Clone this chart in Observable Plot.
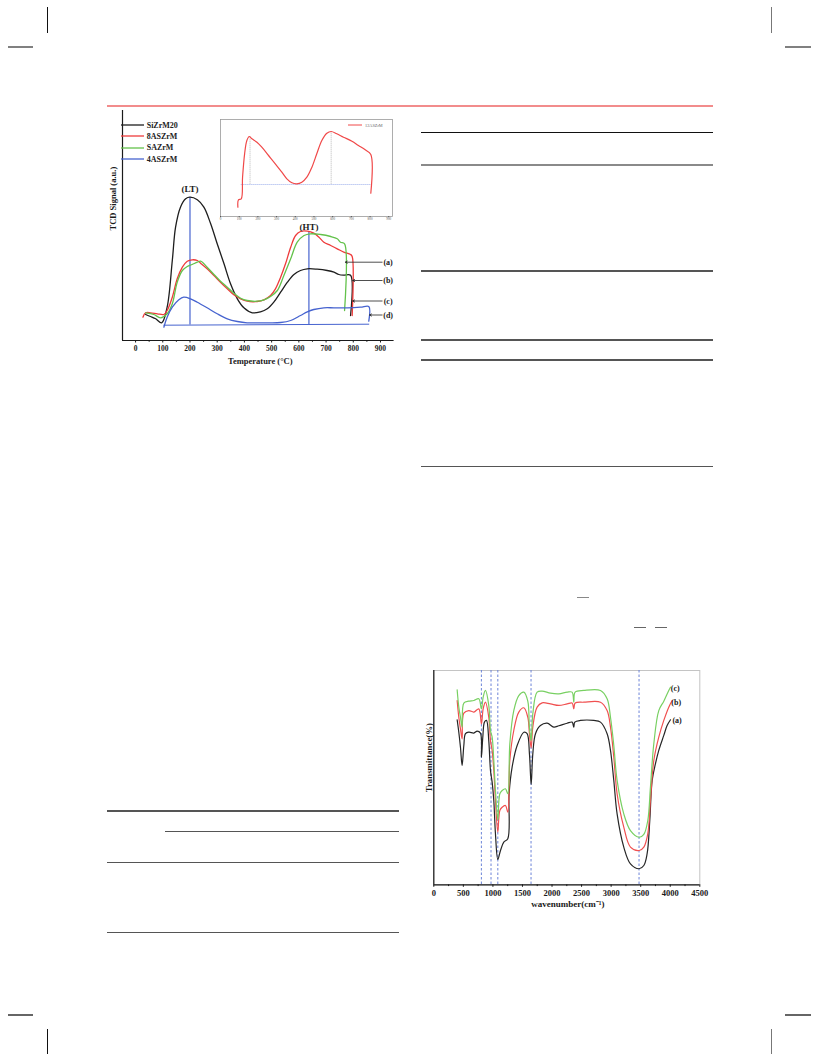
<!DOCTYPE html>
<html>
<head>
<meta charset="utf-8">
<script src="https://cdn.jsdelivr.net/npm/d3@7"></script>
<script src="https://cdn.jsdelivr.net/npm/@observablehq/plot@0.6"></script>
<style>
  body { margin: 0; background: #fff; }
  #page { position: relative; width: 816px; height: 1056px; overflow: hidden; background: #fff;
          font-family: "Liberation Serif", "Times New Roman", serif; }
  .piece { position: absolute; }
  .legend-row { position: absolute; display: flex; align-items: center; font-weight: bold; color: #222; white-space: nowrap; }
  .legend-row svg { display: block; }
</style>
</head>
<body>
<div id="page"></div>
<script>
// ---------- H2-TPD profiles: temperature (°C) vs TCD signal (a.u.) ----------
const tpdSeries = ["SiZrM20", "8ASZrM", "SAZrM", "4ASZrM"];
const tpdColors = ["#1e1e1e", "#ee3b3b", "#63c24b", "#4663cf"];

const siZrM20Temp   = [37, 55, 74, 96, 116, 135, 147, 165, 184, 200, 227, 251, 276, 300, 325, 349, 374, 398, 429, 459, 484, 508, 533, 558, 582, 606, 631, 667, 704, 729, 747, 765, 790, 790];
const siZrM20Signal = [26, 24, 21.7, 17.7, 33.3, 80, 113.3, 133.3, 141.7, 143.3, 140.7, 133.3, 116.7, 96.7, 76.7, 56.7, 41.7, 32.7, 27.7, 28.7, 31.7, 38.3, 48.3, 58.3, 66, 70, 71.7, 71.3, 70, 68.3, 66, 65.3, 65.3, 25];

const as8Temp   = [27, 37, 55, 80, 104, 116, 135, 153, 172, 190, 208, 227, 239, 263, 288, 312, 337, 361, 386, 410, 447, 472, 496, 514, 533, 551, 570, 588, 606, 631, 655, 674, 692, 717, 741, 765, 790, 796, 796];
const as8Signal = [23.3, 27.7, 27.7, 26.7, 26, 30, 43.3, 61.7, 73.3, 79.3, 80.7, 80, 77.3, 71.7, 65, 58.3, 51.7, 45.7, 41.7, 39.3, 39, 40.7, 45, 51.7, 63.3, 76.7, 93.3, 105, 109, 109.3, 107.3, 103.3, 98.3, 95, 91.7, 88.3, 86, 84, 25];

const saTemp   = [37, 67, 92, 116, 135, 153, 172, 190, 208, 227, 239, 263, 288, 312, 337, 361, 386, 410, 447, 472, 496, 521, 545, 570, 594, 619, 643, 680, 717, 741, 753, 768, 768];
const saSignal = [27.7, 26, 22.7, 26.7, 36.7, 58.3, 70, 74, 76, 78.3, 79.3, 73.3, 66, 59.3, 53.3, 47.3, 42.3, 40, 39.3, 40.7, 44, 50, 65, 81.7, 98.3, 105, 106.7, 106, 104, 101.7, 98.3, 96.7, 30];

const as4Temp   = [104, 116, 135, 159, 177, 202, 227, 263, 300, 337, 374, 410, 484, 533, 570, 606, 631, 655, 692, 729, 778, 827, 857, 857];
const as4Signal = [13.3, 23.3, 33.3, 40.7, 43.3, 41.7, 38.3, 32.7, 26.7, 21.7, 19, 17.7, 17.7, 18, 20, 25, 28.7, 31, 32.7, 32.7, 32.7, 33.3, 34, 19.3];

const tpdTicks = [0, 100, 200, 300, 400, 500, 600, 700, 800, 900];
const tpdMinorTicks = [50, 150, 250, 350, 450, 550, 650, 750, 850];

// reduction peaks (low / high temperature) and the common baseline
const peakLabels = ["(LT)", "(HT)"];
const peakTemp = [200, 637];
const peakTop = [143.3, 108];
const peakLabelSignal = [151, 113.5];
const baselineTemp = [104, 857];
const baselineSignal = [15.3, 16.3];

// curve tags with pointer arrows
const curveTags = ["(a)", "(b)", "(c)", "(d)"];
const tagSignal = [78.3, 60, 39.5, 25.5];
const tagArrowStart = [906, 906, 906, 906];
const tagArrowEnd = [771, 798, 798, 860];
const tagTextTemp = [928, 928, 928, 928];

// ---------- inset: 12ASZrM profile ----------
const insetName = "12ASZrM";
const insetTemp   = [93, 96, 111, 118, 129, 141, 154, 168, 195, 221, 257, 293, 328, 355, 382, 408, 435, 462, 489, 515, 542, 569, 592, 622, 658, 703, 738, 774, 804, 804];
const insetSignal = [9.3, 16.7, 17.7, 39.3, 62.7, 76, 80, 77.7, 74.3, 69.3, 61, 52.7, 44.3, 37.7, 33.7, 32.7, 34.3, 39.3, 49.3, 62.7, 76, 83.3, 85, 82.7, 79.3, 75.3, 71, 66.7, 62, 23.3];
const insetPeakTemp = [158, 592];
const insetPeakTop = [79.5, 85];
const insetBaseTemp = [110, 804];
const insetBaseSignal = [32, 32];
const insetTicks = [0, 100, 200, 300, 400, 500, 600, 700, 800, 900];

// ---------- FTIR spectra: wavenumber (cm-1) vs transmittance (%) ----------
const ftirSeries = ["(a)", "(b)", "(c)"];
const ftirColors = ["#262626", "#f05050", "#78d062"];

const ftirAWave = [395, 423, 451, 479, 508, 536, 592, 677, 733, 789, 806, 829, 857, 891, 930, 959, 987, 1015, 1043, 1083, 1128, 1184, 1252, 1274, 1325, 1410, 1523, 1579, 1618, 1647, 1675, 1720, 1804, 1917, 2030, 2115, 2256, 2340, 2368, 2385, 2481, 2707, 2820, 2932, 2989, 3045, 3101, 3214, 3327, 3474, 3553, 3609, 3654, 3694, 3750, 3806, 3891, 3947, 4004];
const ftirATrans = [77.0, 71.2, 64.2, 55.7, 65.0, 70.5, 71.2, 70.8, 71.7, 70.8, 59.6, 68.9, 75.9, 76.7, 67.3, 53.3, 47.9, 39.3, 23.8, 11.8, 16.0, 19.9, 21.5, 42.5, 54.9, 65.0, 71.2, 70.5, 61.1, 46.8, 61.1, 70.5, 74.3, 75.4, 73.6, 74.2, 75.4, 75.9, 73.6, 75.9, 76.7, 76.7, 75.9, 70.5, 62.7, 48.7, 33.1, 17.6, 9.8, 7.5, 9.0, 14.5, 30.0, 48.7, 56.5, 62.7, 69.7, 74.3, 77.0];

const ftirBWave = [395, 423, 451, 479, 508, 592, 677, 761, 806, 835, 874, 930, 959, 987, 1015, 1043, 1083, 1117, 1156, 1212, 1252, 1286, 1353, 1438, 1523, 1590, 1618, 1647, 1675, 1748, 1833, 1974, 2115, 2256, 2340, 2368, 2391, 2538, 2820, 2932, 2989, 3045, 3101, 3214, 3327, 3474, 3553, 3620, 3665, 3722, 3806, 3891, 3975, 4032];
const ftirBTrans = [86.0, 78.2, 72.8, 68.1, 80.1, 81.3, 80.6, 82.1, 75.1, 82.1, 85.2, 78.2, 67.3, 62.7, 53.3, 39.3, 24.6, 34.7, 36.2, 37.0, 33.9, 58.0, 72.0, 80.6, 82.6, 78.2, 70.5, 63.9, 73.6, 82.9, 84.9, 84.4, 83.7, 84.4, 84.8, 82.1, 84.8, 85.2, 85.2, 81.3, 73.6, 59.6, 42.5, 26.9, 17.6, 16.0, 17.6, 23.8, 39.3, 58.0, 68.9, 76.7, 82.9, 86.0];

const ftirCWave = [395, 423, 451, 479, 508, 592, 677, 761, 806, 835, 874, 930, 959, 987, 1015, 1043, 1083, 1117, 1156, 1212, 1252, 1286, 1353, 1438, 1523, 1590, 1618, 1647, 1675, 1748, 1833, 1974, 2115, 2256, 2340, 2368, 2391, 2538, 2820, 2932, 2989, 3045, 3101, 3214, 3327, 3474, 3553, 3620, 3665, 3722, 3806, 3891, 3975, 4004];
const ftirCTrans = [91.0, 82.9, 78.2, 73.6, 84.8, 85.7, 86.0, 86.8, 82.1, 87.6, 90.7, 83.7, 72.0, 68.9, 58.0, 44.0, 30.3, 42.5, 44.0, 44.8, 42.5, 65.8, 81.3, 88.3, 89.9, 85.7, 73.6, 67.3, 79.8, 89.9, 90.4, 89.4, 89.1, 89.9, 89.9, 85.2, 89.9, 90.7, 90.7, 86.8, 78.2, 65.0, 48.7, 33.1, 25.3, 22.2, 23.5, 30.0, 45.6, 65.8, 81.3, 85.7, 90.7, 92.2];

const ftirTagWave = [4116, 4100, 4083];
const ftirTagTrans = [76.7, 85.2, 91.4];
const bandPositions = [805, 968, 1083, 1645, 3472];
const ftirTicks = [0, 500, 1000, 1500, 2000, 2500, 3000, 3500, 4000, 4500];
const ftirMinorTicks = [250, 750, 1250, 1750, 2250, 2750, 3250, 3750, 4250];

// ---------- build tables ----------
const tpdTemps = [siZrM20Temp, as8Temp, saTemp, as4Temp];
const tpdSignals = [siZrM20Signal, as8Signal, saSignal, as4Signal];
const tpdRows = tpdSeries.flatMap((name, i) =>
  tpdTemps[i].map((t, j) => ({series: name, temp: t, signal: tpdSignals[i][j]})));
const peakRows = peakLabels.map((label, i) => ({label, temp: peakTemp[i], top: peakTop[i], labelSignal: peakLabelSignal[i]}));
const baselineRows = baselineTemp.map((t, i) => ({temp: t, signal: baselineSignal[i]}));
const tagRows = curveTags.map((tag, i) => ({tag, signal: tagSignal[i], from: tagArrowStart[i], to: tagArrowEnd[i], textTemp: tagTextTemp[i]}));

const insetRows = insetTemp.map((t, i) => ({temp: t, signal: insetSignal[i]}));
const insetPeakRows = insetPeakTemp.map((t, i) => ({temp: t, top: insetPeakTop[i]}));
const insetBaseRows = insetBaseTemp.map((t, i) => ({temp: t, signal: insetBaseSignal[i]}));

const ftirWaves = [ftirAWave, ftirBWave, ftirCWave];
const ftirTrans = [ftirATrans, ftirBTrans, ftirCTrans];
const ftirRows = ftirSeries.flatMap((name, i) =>
  ftirWaves[i].map((w, j) => ({series: name, wave: w, trans: ftirTrans[i][j]})));
const ftirTagRows = ftirSeries.map((name, i) => ({tag: name, wave: ftirTagWave[i], trans: ftirTagTrans[i]}));

const serif = "Liberation Serif, Times New Roman, serif";
const ink = "#1a1a1a";
const page = document.getElementById("page");

function place(node, left, top) {
  node.classList.add("piece");
  node.style.left = left + "px";
  node.style.top = top + "px";
  page.appendChild(node);
}

// ---------- page furniture: header rule, table rules, crop marks ----------
function hRule(x1, x2, y, thick, color) {
  const d = document.createElement("div");
  d.style.cssText = `position:absolute;left:${x1}px;top:${y - thick / 2}px;width:${x2 - x1}px;height:${thick}px;background:${color};`;
  page.appendChild(d);
}
function vRule(x, y1, y2, thick, color) {
  const d = document.createElement("div");
  d.style.cssText = `position:absolute;left:${x - thick / 2}px;top:${y1}px;width:${thick}px;height:${y2 - y1}px;background:${color};`;
  page.appendChild(d);
}
hRule(107, 713, 105.8, 1.6, "#f28c8c");
hRule(421, 713, 132.3, 1, "#111");
hRule(421, 713, 164.7, 1.7, "#8a8a8a");
hRule(421, 713, 271, 1.3, "#555");
hRule(421, 713, 340, 1.3, "#555");
hRule(421, 713, 360, 1.3, "#555");
hRule(421, 713, 466.7, 1.3, "#555");
hRule(107, 399, 811, 1.3, "#555");
hRule(165, 399, 831.3, 1.3, "#555");
hRule(107, 399, 862.7, 1.3, "#555");
hRule(107, 399, 932.7, 1.3, "#555");
hRule(577, 589, 597.7, 1.5, "#888");
hRule(634, 646, 627.7, 1.5, "#666");
hRule(655, 667, 627.7, 1.5, "#666");
hRule(8, 33, 46.7, 2, "#808080");
hRule(785, 811, 46.7, 2, "#808080");
hRule(8, 33, 1015, 2, "#666");
hRule(785, 811, 1015, 2, "#666");
vRule(47, 7.3, 32.7, 1, "#111");
vRule(771, 7.3, 32.7, 1, "#777");
vRule(47, 1029, 1054, 1, "#111");
vRule(771, 1029, 1054, 1, "#777");

// ---------- TPD chart ----------
const tpdPlot = Plot.plot({
  width: 300, height: 270,
  marginLeft: 22, marginRight: 6.4, marginTop: 5, marginBottom: 35,
  x: {domain: [-48, 950], label: null},
  y: {domain: [0, 230], axis: null},
  color: {domain: tpdSeries, range: tpdColors},
  style: {fontFamily: serif, fontSize: "7.5px", fontWeight: "bold", color: ink, background: "transparent", overflow: "visible"},
  marks: [
    Plot.line(baselineRows, {x: "temp", y: "signal", stroke: "#4663cf", strokeWidth: 1}),
    Plot.ruleX(peakRows, {x: "temp", y1: 15.5, y2: "top", stroke: "#4663cf", strokeWidth: 1.2}),
    Plot.line(tpdRows, {x: "temp", y: "signal", z: "series", stroke: "series", strokeWidth: 1.3, curve: "catmull-rom"}),
    Plot.text(peakRows, {x: "temp", y: "labelSignal", text: "label", fontSize: 9, fontWeight: "bold", fill: ink}),
    Plot.arrow(tagRows, {x1: "from", y1: "signal", x2: "to", y2: "signal", stroke: "#222", strokeWidth: 0.8, headLength: 4}),
    Plot.text(tagRows, {x: "textTemp", y: "signal", text: "tag", fontSize: 8, fontWeight: "bold", fill: ink}),
    Plot.ruleX([-48], {stroke: ink, strokeWidth: 1.2}),
    Plot.ruleY([0], {stroke: ink, strokeWidth: 1.2}),
    Plot.axisX({ticks: tpdTicks, tickSize: 2.5, tickPadding: 2.5, tickFormat: d => String(d), label: null, fill: ink}),
    Plot.axisX({ticks: tpdMinorTicks, tickSize: 1.8, tickFormat: () => "", label: null}),
    Plot.text(["Temperature (°C)"], {text: d => d, frameAnchor: "bottom", dy: 23, dx: 2, fontSize: 8.5, fontWeight: "bold", fill: ink}),
    Plot.text(["TCD Signal (a.u.)"], {text: d => d, frameAnchor: "left", dx: -9, dy: 5, rotate: -90, fontSize: 8.5, fontWeight: "bold", fill: ink})
  ]
});
place(tpdPlot, 100, 105);

// legend for the TPD series
function swatch(color, w, thick) {
  return `<svg width="${w}" height="4" style="margin-right:3px"><line x1="0" x2="${w}" y1="2" y2="2" stroke="${color}" stroke-width="${thick}"/></svg>`;
}
tpdSeries.forEach((name, i) => {
  const row = document.createElement("div");
  row.className = "legend-row";
  row.style.left = "120.7px";
  row.style.top = (119.6 + i * 11.3) + "px";
  row.style.height = "11px";
  row.style.fontSize = "8px";
  row.innerHTML = swatch(tpdColors[i], 23, 1.3) + name;
  page.appendChild(row);
});

// ---------- inset ----------
const insetPlot = Plot.plot({
  width: 178, height: 106,
  marginLeft: 2, marginRight: 4, marginTop: 2, marginBottom: 7,
  x: {domain: [0, 920], label: null},
  y: {domain: [0, 97], axis: null},
  style: {fontFamily: serif, fontSize: "3.3px", color: "#555", background: "transparent", overflow: "visible"},
  marks: [
    Plot.frame({stroke: "#9a9a9a", strokeWidth: 0.8}),
    Plot.line(insetBaseRows, {x: "temp", y: "signal", stroke: "#a9b9ee", strokeWidth: 0.7, strokeDasharray: "1,1"}),
    Plot.ruleX(insetPeakRows, {x: "temp", y1: 32.3, y2: "top", stroke: "#8a8a8a", strokeWidth: 0.6, strokeDasharray: "1,1"}),
    Plot.line(insetRows, {x: "temp", y: "signal", stroke: "#f04848", strokeWidth: 1.2, curve: "catmull-rom"}),
    Plot.axisX({ticks: insetTicks, tickSize: 1.2, tickPadding: 0.3, label: null})
  ]
});
place(insetPlot, 218, 117);

const insetLegend = document.createElement("div");
insetLegend.className = "legend-row";
insetLegend.style.cssText += "left:348px;top:122.5px;height:5px;font-size:4.3px;font-weight:normal;color:#666;";
insetLegend.innerHTML = swatch("#f04848", 14, 1) + insetName;
page.appendChild(insetLegend);

// ---------- FTIR chart ----------
const ftirPlot = Plot.plot({
  width: 300, height: 260,
  marginLeft: 23.3, marginRight: 10.7, marginTop: 10, marginBottom: 35.7,
  x: {domain: [0, 4500], label: null},
  y: {domain: [0, 100], axis: null},
  color: {domain: ftirSeries, range: ftirColors},
  style: {fontFamily: serif, fontSize: "8.5px", fontWeight: "bold", color: ink, background: "transparent", overflow: "visible"},
  marks: [
    Plot.frame({stroke: "#c4c4c4", strokeWidth: 1}),
    Plot.ruleX(bandPositions, {stroke: "#6c84d8", strokeWidth: 1, strokeDasharray: "2.5,2"}),
    Plot.line(ftirRows, {x: "wave", y: "trans", z: "series", stroke: "series", strokeWidth: 1.2, curve: "catmull-rom"}),
    Plot.text(ftirTagRows, {x: "wave", y: "trans", text: "tag", fontSize: 8, fontWeight: "bold", fill: ink}),
    Plot.ruleX([0], {stroke: ink, strokeWidth: 1.2}),
    Plot.ruleY([0], {stroke: ink, strokeWidth: 1.2}),
    Plot.axisX({ticks: ftirTicks, tickSize: 2.5, tickPadding: 2.5, tickFormat: d => String(d), label: null, fill: ink}),
    Plot.axisX({ticks: ftirMinorTicks, tickSize: 1.8, tickFormat: () => "", label: null}),
    Plot.text(["wavenumber(cm⁻¹)"], {text: d => d, frameAnchor: "bottom", dy: 22.4, dx: 1, fontSize: 9, fontWeight: "bold", fill: ink}),
    Plot.text(["Transmittance(%)"], {text: d => d, frameAnchor: "left", dx: -5, dy: 14.6, rotate: -90, fontSize: 8.8, fontWeight: "bold", fill: ink})
  ]
});
place(ftirPlot, 410, 660);
</script>
</body>
</html>
